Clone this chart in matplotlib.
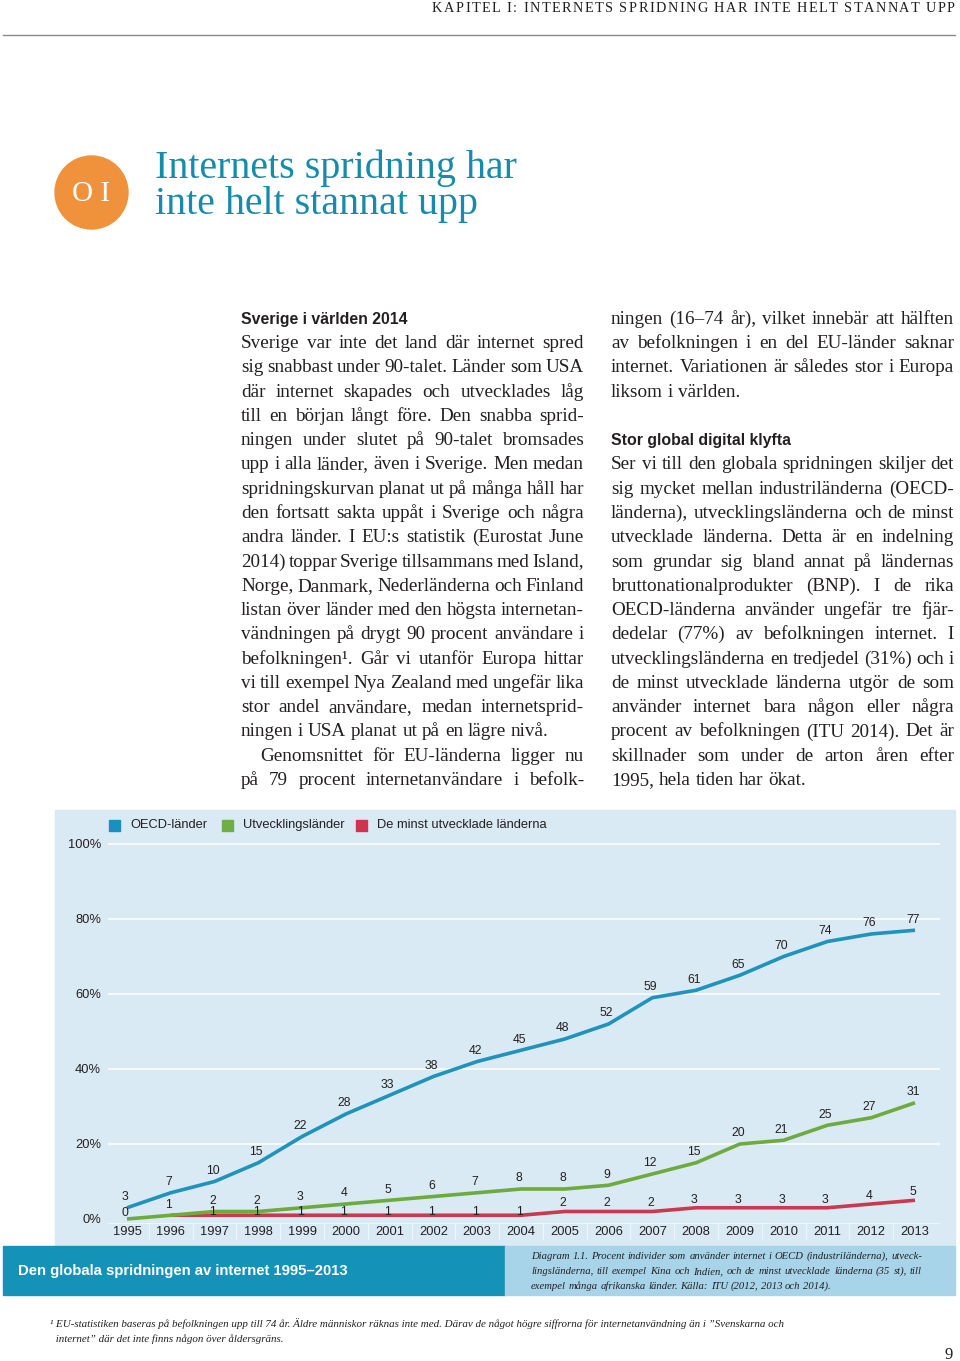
import matplotlib
matplotlib.use("Agg")
import matplotlib.pyplot as plt
import numpy as np
from matplotlib.patches import Rectangle, Ellipse

W, H = 960, 1361

# Data
years = list(range(1995, 2014))
oecd = [3, 7, 10, 15, 22, 28, 33, 38, 42, 45, 48, 52, 59, 61, 65, 70, 74, 76, 77]
utv = [0, 1, 2, 2, 3, 4, 5, 6, 7, 8, 8, 9, 12, 15, 20, 21, 25, 27, 31]
minst = [np.nan, 1, 1, 1, 1, 1, 1, 1, 1, 1, 2, 2, 2, 3, 3, 3, 3, 4, 5]
serier = ["OECD-länder", "Utvecklingsländer", "De minst utvecklade länderna"]
yticks = [0, 20, 40, 60, 80, 100]

# Texter
rubrik = "KAPITEL I: INTERNETS SPRIDNING HAR INTE HELT STANNAT UPP"
titel = ["Internets spridning har", "inte helt stannat upp"]
vanster = [
    "Sverige var inte det land där internet spred",
    "sig snabbast under 90-talet. Länder som USA",
    "där internet skapades och utvecklades låg",
    "till en början långt före. Den snabba sprid-",
    "ningen under slutet på 90-talet bromsades",
    "upp i alla länder, även i Sverige. Men medan",
    "spridningskurvan planat ut på många håll har",
    "den fortsatt sakta uppåt i Sverige och några",
    "andra länder. I EU:s statistik (Eurostat June",
    "2014) toppar Sverige tillsammans med Island,",
    "Norge, Danmark, Nederländerna och Finland",
    "listan över länder med den högsta internetan-",
    "vändningen på drygt 90 procent användare i",
    "befolkningen¹. Går vi utanför Europa hittar",
    "vi till exempel Nya Zealand med ungefär lika",
    "stor andel användare, medan internetsprid-",
    "ningen i USA planat ut på en lägre nivå.",
    "Genomsnittet för EU-länderna ligger nu",
    "på 79 procent internetanvändare i befolk-",
]
hoger1 = [
    "ningen (16–74 år), vilket innebär att hälften",
    "av befolkningen i en del EU-länder saknar",
    "internet. Variationen är således stor i Europa",
    "liksom i världen.",
]
hoger2 = [
    "Ser vi till den globala spridningen skiljer det",
    "sig mycket mellan industriländerna (OECD-",
    "länderna), utvecklingsländerna och de minst",
    "utvecklade länderna. Detta är en indelning",
    "som grundar sig bland annat på ländernas",
    "bruttonationalprodukter (BNP). I de rika",
    "OECD-länderna använder ungefär tre fjär-",
    "dedelar (77%) av befolkningen internet. I",
    "utvecklingsländerna en tredjedel (31%) och i",
    "de minst utvecklade länderna utgör de som",
    "använder internet bara någon eller några",
    "procent av befolkningen (ITU 2014). Det är",
    "skillnader som under de arton åren efter",
    "1995, hela tiden har ökat.",
]
diagramtext = [
    "Diagram 1.1. Procent individer som använder internet i OECD (industriländerna), utveck-",
    "lingsländerna, till exempel Kina och Indien, och de minst utvecklade länderna (35 st), till",
    "exempel många afrikanska länder. Källa: ITU (2012, 2013 och 2014).",
]
fotnot = [
    "¹ EU-statistiken baseras på befolkningen upp till 74 år. Äldre människor räknas inte med. Därav de något högre siffrorna för internetanvändning än i ”Svenskarna och",
    " internet” där det inte finns någon över åldersgräns.",
]

BLA = "#1f93bb"
GRON = "#6dab3f"
ROD = "#cb3950"
TEXT = "#231f20"
SERIF = "Liberation Serif"
SANS = "Liberation Sans"

fig = plt.figure(figsize=(W / 100, H / 100), dpi=100)
fig.patch.set_facecolor("white")
r = fig.canvas.get_renderer()


def fx(x):
    return x / W


def fy(y):
    return 1 - y / H


def rad(x0, x1, y, text, justera=True, **kw):
    ord_ = text.split(" ")
    objs = [fig.text(fx(x0), fy(y), o, va="baseline", ha="left", **kw) for o in ord_]
    bredd = [t.get_window_extent(r).width for t in objs]
    if justera and len(objs) > 1:
        gap = (x1 - x0 - sum(bredd)) / (len(objs) - 1)
    else:
        gap = 0.25 * kw.get("fontsize", 10) * 100 / 72
    x = x0
    for t, b in zip(objs, bredd):
        t.set_x(fx(x))
        x += b + gap


def sparrad(x0, x1, y, text, **kw):
    objs, bredd = [], []
    for c in text:
        t = fig.text(fx(x0), fy(y), c if c != " " else "", va="baseline", **kw)
        objs.append(t)
        bredd.append(t.get_window_extent(r).width if c != " " else 0.25 * kw["fontsize"] * 100 / 72)
    track = (x1 - x0 - sum(bredd)) / (len(text) - 1)
    x = x0
    for t, b in zip(objs, bredd):
        t.set_x(fx(x))
        x += b + track


# Sidhuvud
sparrad(432, 955, 12, rubrik, fontsize=10.3, family=SERIF, color=TEXT)
fig.add_artist(plt.Line2D([fx(3), fx(955)], [fy(35), fy(35)], color="#8a8a8a", lw=1))

# Kapitelnummer och titel
fig.add_artist(Ellipse((fx(91.5), fy(192.5)), 73 / W, 73 / H,
                       color="#f0923b", transform=fig.transFigure))
fig.text(fx(91), fy(201), "O I", ha="center", va="baseline", fontsize=21,
         family=SERIF, color="white")
fig.text(fx(155), fy(178), titel[0], fontsize=28.8, family=SERIF, color="#178bab", va="baseline")
fig.text(fx(155), fy(214), titel[1], fontsize=28.8, family=SERIF, color="#178bab", va="baseline")

# Brödtext
rad_h = 24.28
bas = 323.7
FS = 13.8
fig.text(fx(241), fy(bas), "Sverige i världen 2014", fontsize=11.4, family=SANS,
         weight="bold", color=TEXT, va="baseline")
for i, l in enumerate(vanster):
    y = bas + rad_h * (i + 1)
    x0 = 260 if l.startswith("Genomsnittet") else 241
    rad(x0, 584, y, l, justera=(i != 16), fontsize=FS, family=SERIF, color=TEXT)

for i, l in enumerate(hoger1):
    rad(611, 954, bas + rad_h * i, l, justera=(i != len(hoger1) - 1),
        fontsize=FS, family=SERIF, color=TEXT)
fig.text(fx(611), fy(bas + rad_h * 5), "Stor global digital klyfta", fontsize=11.4,
         family=SANS, weight="bold", color=TEXT, va="baseline")
for i, l in enumerate(hoger2):
    rad(611, 954, bas + rad_h * (i + 6), l, justera=(i != len(hoger2) - 1),
        fontsize=FS, family=SERIF, color=TEXT)

# Diagrampanel
fig.add_artist(Rectangle((fx(55), fy(1246)), (955 - 55) / W, (1246 - 810) / H,
                         transform=fig.transFigure, color="#d9eaf4", zorder=0))
fig.add_artist(Rectangle((fx(3), fy(1295)), (505 - 3) / W, 49 / H,
                         transform=fig.transFigure, color="#1592b8", zorder=0))
fig.add_artist(Rectangle((fx(505), fy(1295)), (955 - 505) / W, 49 / H,
                         transform=fig.transFigure, color="#a8d4ea", zorder=0))
fig.text(fx(18), fy(1271), "Den globala spridningen av internet 1995–2013", fontsize=10.7,
         family=SANS, weight="bold", color="white", va="center")
for i, l in enumerate(diagramtext):
    rad(531, 922, 1259 + 15 * i, l, justera=(i < 2), fontsize=7.7, family=SERIF,
        style="italic", color=TEXT)

# Legend
for (x, namn, c) in zip([109, 222, 356], serier, ["#1a90c0", "#6fae45", "#d0334f"]):
    fig.add_artist(Rectangle((fx(x), fy(831)), 11 / W, 11 / H,
                             transform=fig.transFigure, color=c))
    fig.text(fx(x + 21), fy(825), namn, fontsize=9.3, family=SANS, color=TEXT, va="center")

ax = fig.add_axes([fx(108), fy(1240), (940 - 108) / W, (1240 - 830) / H])
ax.set_facecolor("none")
ax.set_xlim(1994.566, 2013.571)
ax.set_ylim(-5.6, 103.73)
for s in ax.spines.values():
    s.set_visible(False)
ax.set_xticks([])
ax.set_yticks(yticks)
ax.set_yticklabels([f"{v}%" for v in yticks], fontsize=9.3, family=SANS, color=TEXT)
ax.tick_params(axis="y", length=0, pad=5)
for v in yticks[1:]:
    ax.axhline(v, color="white", lw=1.1, zorder=1)
ax.axhline(-1, color="white", lw=0.8, alpha=0.6, zorder=1)
for yr in years[:-1]:
    ax.plot([yr + 0.5, yr + 0.5], [-1, -5.3], color="white", lw=0.8, alpha=0.6, zorder=1)
for yr in years:
    ax.text(yr, -3.6, str(yr), ha="center", va="center", fontsize=9.3, family=SANS, color=TEXT)

ax.plot(years, minst, color=ROD, lw=2.6, solid_capstyle="butt", zorder=3)
ax.plot(years, utv, color=GRON, lw=2.6, solid_capstyle="butt", zorder=4)
ax.plot(years, oecd, color=BLA, lw=2.6, solid_capstyle="butt", zorder=5)


def etikett(serie, dy, start=0):
    for i in range(start, len(years)):
        v = serie[i]
        d = dy(v)
        ax.annotate(str(v), (years[i], v), xytext=(-2 * 0.72, d * 0.72),
                    textcoords="offset points", ha="center", va="center",
                    fontsize=8.8, family=SANS, color=TEXT, zorder=6)


# förskjutning i pixlar ovanför punkten
etikett(oecd, lambda v: 10.5)
etikett(utv, lambda v: 6 if v == 0 else 10.5)
etikett(minst, lambda v: 3 if v == 1 else 8, start=2)

# Fotnot och sidnummer
fig.text(fx(50), fy(1327), fotnot[0], fontsize=7.9, family=SERIF, style="italic", color=TEXT, va="baseline")
fig.text(fx(53), fy(1342), fotnot[1], fontsize=7.9, family=SERIF, style="italic", color=TEXT, va="baseline")
fig.text(fx(953), fy(1359), "9", fontsize=12, family=SERIF, color=TEXT, ha="right", va="baseline")

fig.savefig("out.png", dpi=100)
